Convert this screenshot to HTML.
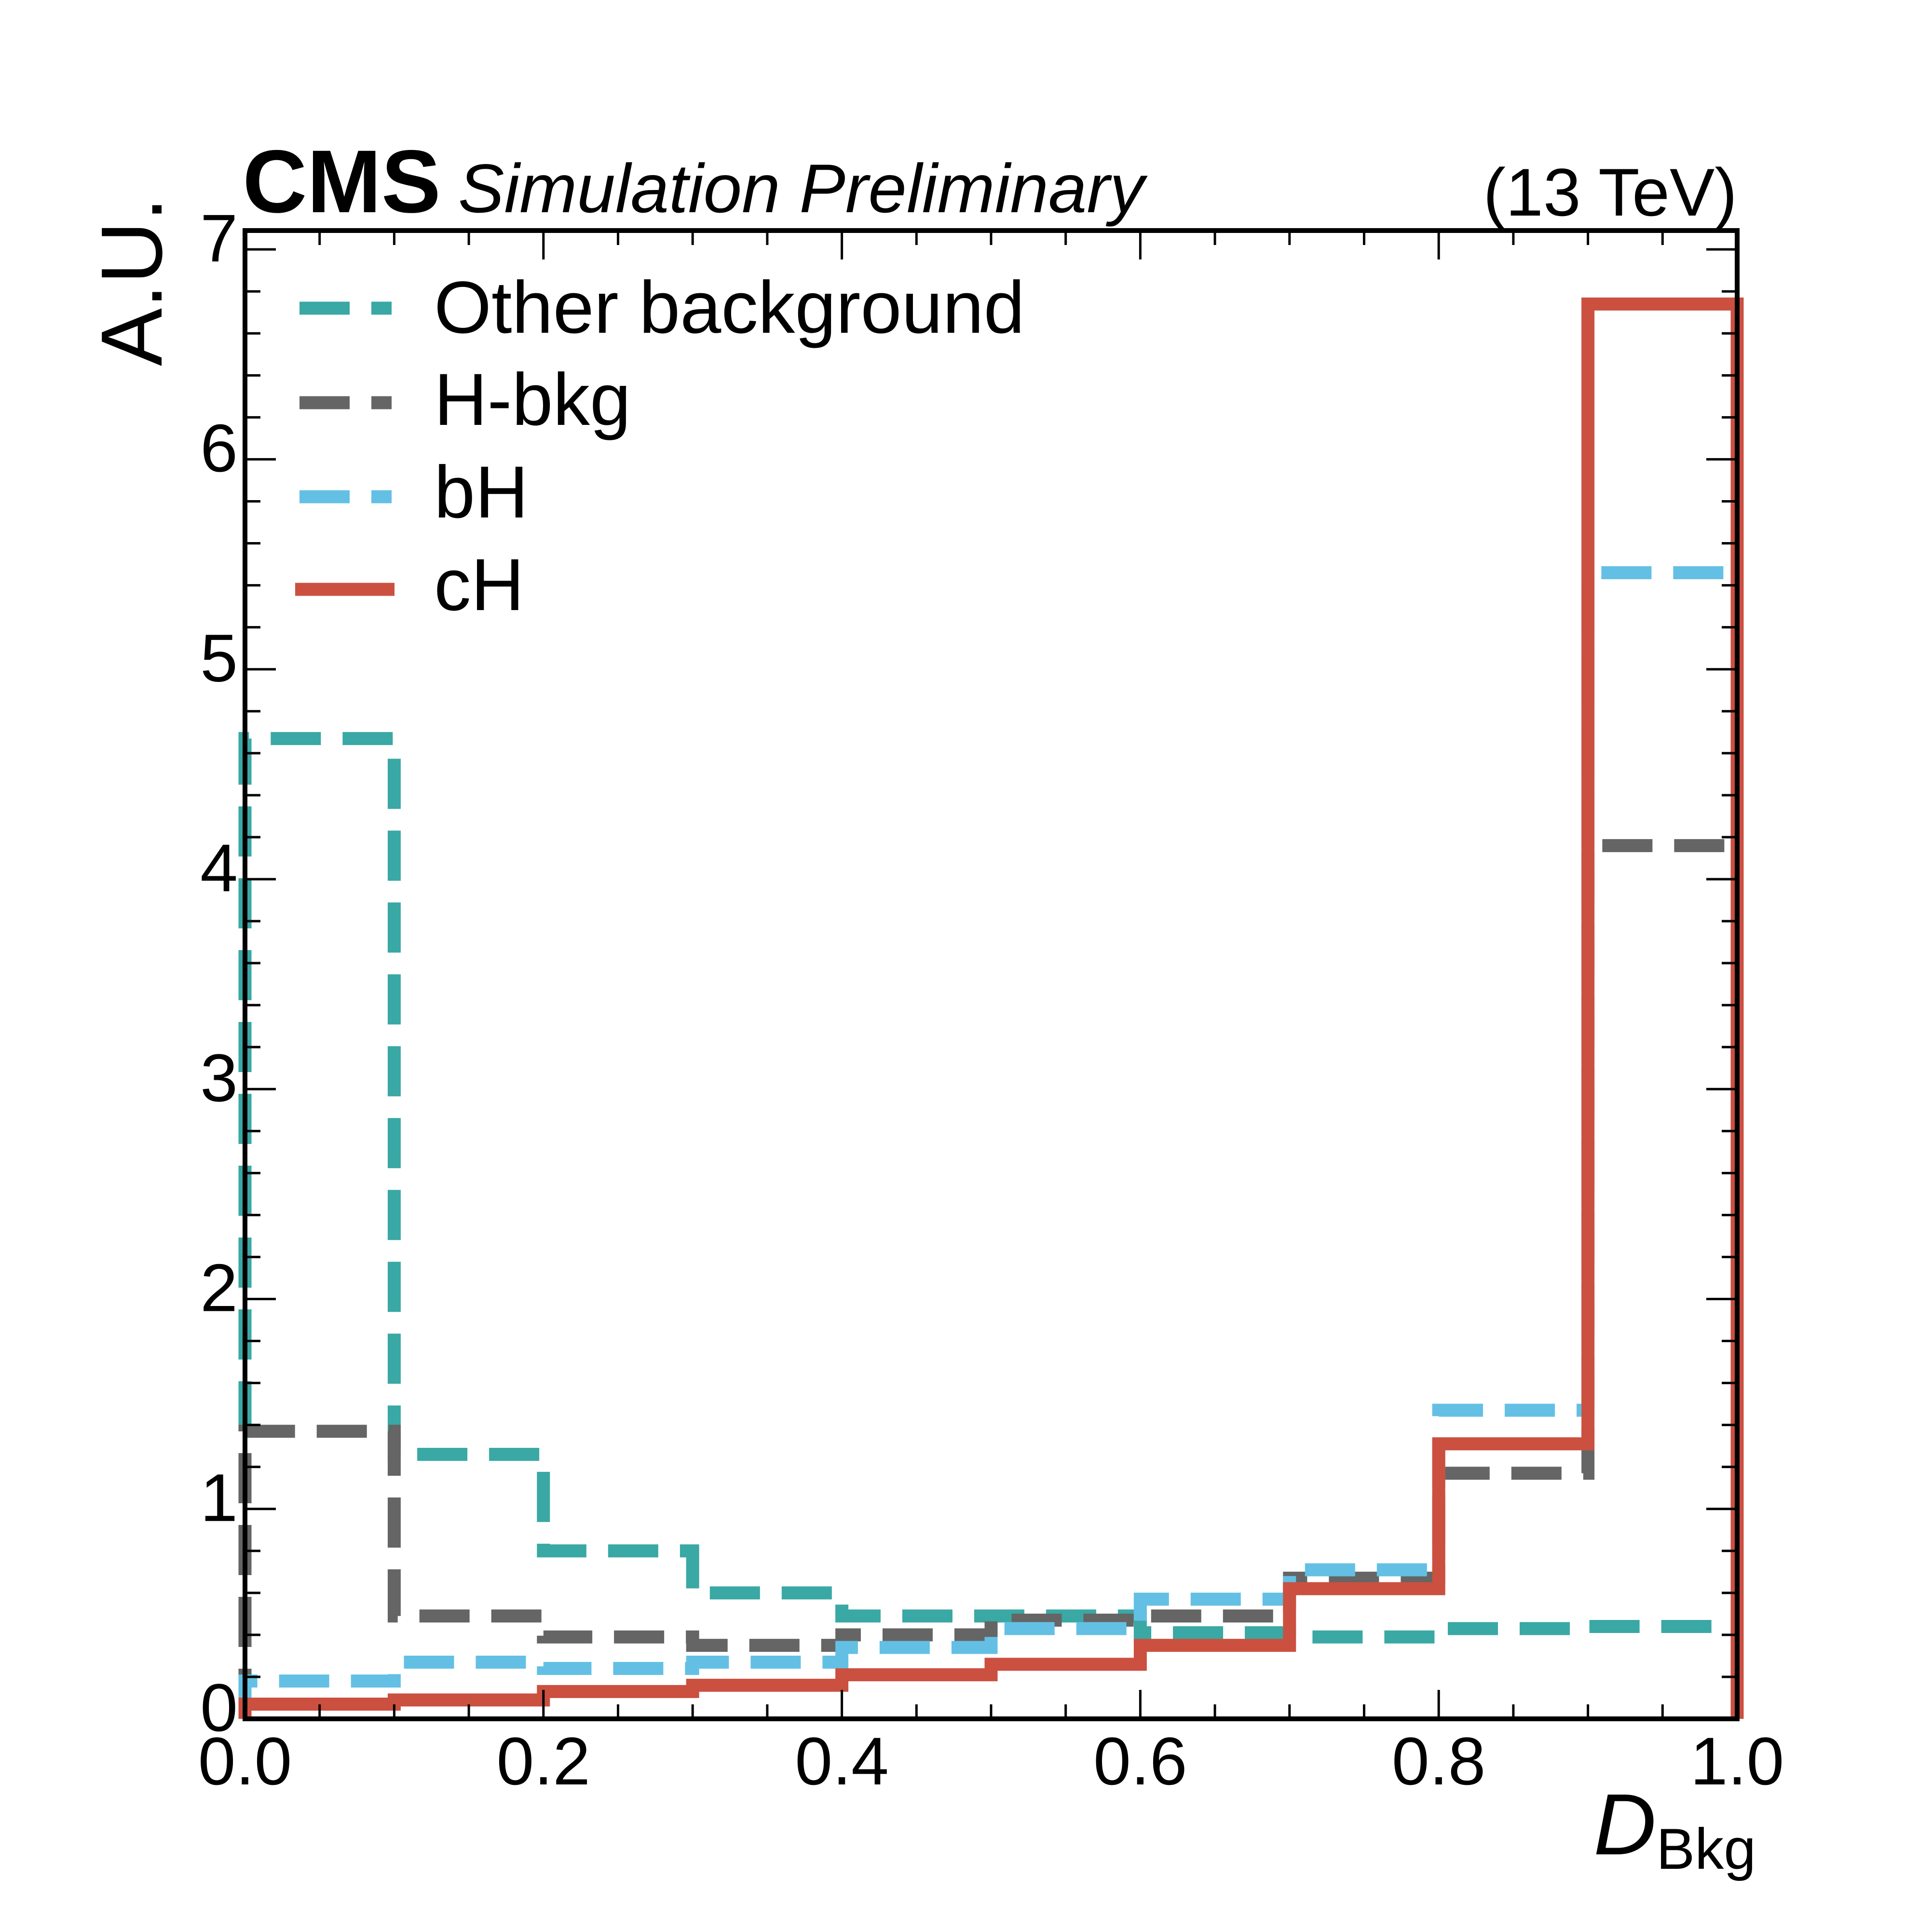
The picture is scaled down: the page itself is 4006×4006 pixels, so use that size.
<!DOCTYPE html>
<html><head><meta charset="utf-8"><style>html,body{margin:0;padding:0;background:#fff}svg{display:block}</style></head>
<body>
<svg id="chart" width="4006" height="4006" viewBox="0 0 4006 4006" xmlns="http://www.w3.org/2000/svg" font-family="'Liberation Sans', sans-serif">
<rect width="4006" height="4006" fill="#fff"/>
<g id="marks"></g>
<g id="axes"></g>
<text x="503" y="440" font-size="185" font-weight="bold">CMS</text>
<text x="950" y="440" font-size="143" font-style="italic">Simulation Preliminary</text>
<text x="3602" y="447" font-size="140" text-anchor="end">(13 TeV)</text>
<text transform="translate(335,409) rotate(-90)" font-size="180" text-anchor="end">A.U.</text>
<text x="3641" y="3845" font-size="180" text-anchor="end"><tspan font-style="italic">D</tspan><tspan font-size="120" dy="30">Bkg</tspan></text>
<g>
 <line x1="621" y1="639" x2="812" y2="639" stroke="#3aa8a4" stroke-width="27" stroke-dasharray="104 45"/>
 <text x="900" y="690" font-size="153">Other background</text>
 <line x1="621" y1="835" x2="812" y2="835" stroke="#656565" stroke-width="27" stroke-dasharray="104 45"/>
 <text x="900" y="881" font-size="153">H-bkg</text>
 <line x1="621" y1="1030" x2="812" y2="1030" stroke="#63c0e4" stroke-width="27" stroke-dasharray="104 45"/>
 <text x="900" y="1073" font-size="153">bH</text>
 <line x1="612" y1="1222" x2="818" y2="1222" stroke="#cb5040" stroke-width="27"/>
 <text x="900" y="1265" font-size="153">cH</text>
</g>
</svg>
<script>
var binEdges = [0,0.1,0.2,0.3,0.4,0.5,0.6,0.7,0.8,0.9,1.0];
var otherBkg = [4.67,1.26,0.80,0.60,0.49,0.49,0.41,0.39,0.43,0.44];
var hBkg = [1.37,0.49,0.39,0.35,0.40,0.47,0.49,0.67,1.17,4.16];
var bH = [0.18,0.27,0.24,0.27,0.34,0.43,0.57,0.71,1.47,5.46];
var cH = [0.07,0.09,0.13,0.16,0.21,0.26,0.35,0.62,1.31,6.74];
var xTicks = [0,0.2,0.4,0.6,0.8,1.0];
var xTickLabels = ["0.0","0.2","0.4","0.6","0.8","1.0"];
var yTicks = [0,1,2,3,4,5,6,7];
var yTickLabels = ["0","1","2","3","4","5","6","7"];

var L=508,R=3602,T=478,B=3564,YMAX=7.09;
var NS='http://www.w3.org/2000/svg';
function sx(v){return L+(R-L)*v;}
function sy(v){return B-(B-T)*v/YMAX;}
var marks=document.getElementById('marks');
var axes=document.getElementById('axes');
function mk(tag,attrs,parent){var e=document.createElementNS(NS,tag);for(var k in attrs)e.setAttribute(k,attrs[k]);parent.appendChild(e);return e;}

function hist(vals,color,dash,name){
  var d='M'+sx(binEdges[0])+','+sy(0);
  for(var i=0;i<vals.length;i++){
    d+=' L'+sx(binEdges[i])+','+sy(vals[i])+' L'+sx(binEdges[i+1])+','+sy(vals[i]);
  }
  d+=' L'+sx(binEdges[binEdges.length-1])+','+sy(0);
  var attrs={d:d,fill:'none',stroke:color,'stroke-width':27};
  if(dash) attrs['stroke-dasharray']=dash;
  var p=mk('path',attrs,marks);
  
  
}
hist(otherBkg,'#3aa8a4','104 45','series-other-background');
hist(hBkg,'#656565','104 45','series-h-bkg');
hist(bH,'#63c0e4','104 45','series-bh');
hist(cH,'#cb5040',null,'series-ch');

var fr=mk('rect',{x:L,y:T,width:R-L,height:B-T,fill:'none',stroke:'#000','stroke-width':10},axes);


for(var i=0;i<=20;i++){
  var v=i*0.05, x=sx(v), major=(i%4===0), len=major?60:30;
  mk('line',{x1:x,y1:B,x2:x,y2:B-len,stroke:'#000','stroke-width':5},axes);
  mk('line',{x1:x,y1:T,x2:x,y2:T+len,stroke:'#000','stroke-width':5},axes);
}
xTicks.forEach(function(v,i){
  var t=mk('text',{x:sx(v),y:3700,'font-size':140,'text-anchor':'middle'},axes);
  t.textContent=xTickLabels[i];
  
  
});
for(var j=0;j<=35;j++){
  var vv=j*0.2, y=sy(vv), mj=(j%5===0), ln=mj?64:32;
  mk('line',{x1:L,y1:y,x2:L+ln,y2:y,stroke:'#000','stroke-width':5},axes);
  mk('line',{x1:R,y1:y,x2:R-ln,y2:y,stroke:'#000','stroke-width':5},axes);
}
yTicks.forEach(function(v,i){
  var t=mk('text',{x:493,y:sy(v)+25,'font-size':140,'text-anchor':'end'},axes);
  t.textContent=yTickLabels[i];
  
  
});
</script>
</body></html>
